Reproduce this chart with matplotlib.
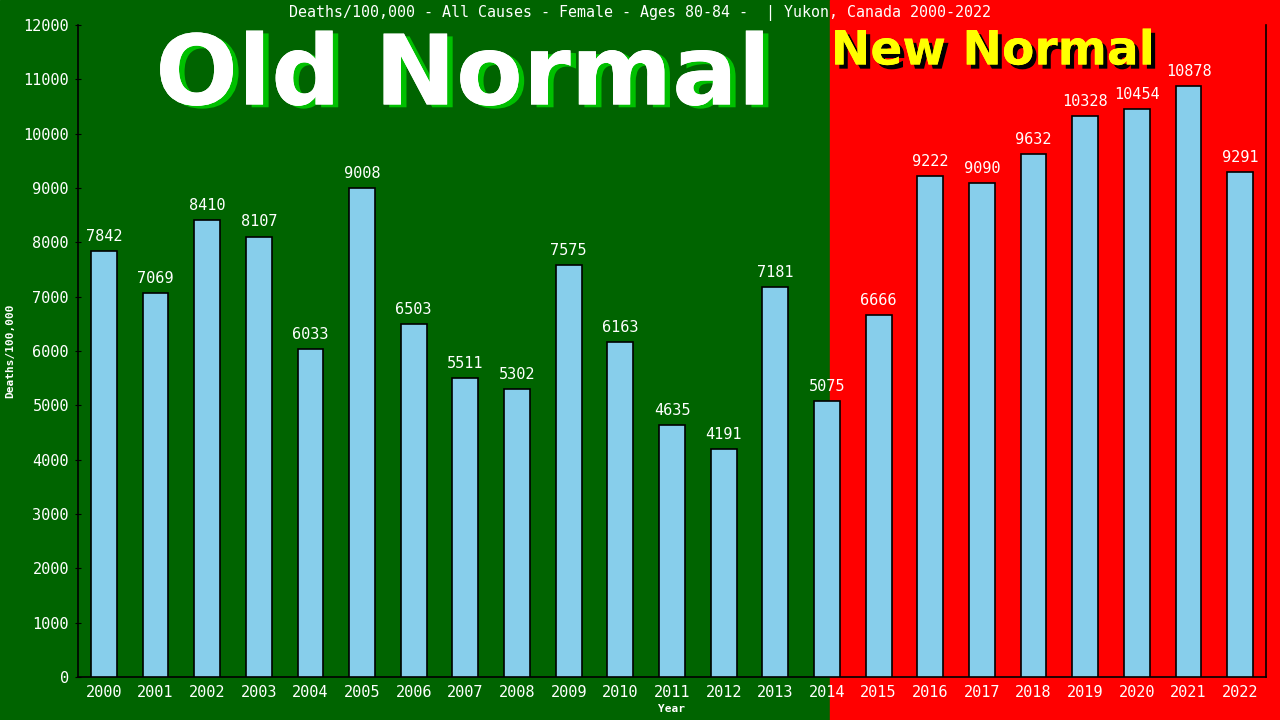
import numpy as np
import matplotlib.pyplot as plt
from matplotlib.patches import Rectangle
import matplotlib.patheffects as pe

years = [str(y) for y in range(2000, 2023)]
deaths = [7842, 7069, 8410, 8107, 6033, 9008, 6503, 5511, 5302, 7575,
          6163, 4635, 4191, 7181, 5075, 6666, 9222, 9090, 9632, 10328,
          10454, 10878, 9291]

title = "Deaths/100,000 - All Causes - Female - Ages 80-84 -  | Yukon, Canada 2000-2022"

fig = plt.figure(figsize=(12.8, 7.2), dpi=100)

# background halves: green = old normal, red = new normal
split = 830 / 1280
fig.patches.append(Rectangle((0, 0), split, 1, transform=fig.transFigure,
                             color='#006400', zorder=-10))
fig.patches.append(Rectangle((split, 0), 1 - split, 1, transform=fig.transFigure,
                             color='#ff0000', zorder=-10))

ax = fig.add_axes([78 / 1280, 43 / 720, 1188 / 1280, 652 / 720])
ax.patch.set_alpha(0)

x = np.arange(len(years))
ax.bar(x, deaths, width=0.5, color='#87ceeb', edgecolor='black', linewidth=1.2, zorder=3)
for xi, v in zip(x, deaths):
    ax.text(xi, v + 130, str(v), ha='center', va='bottom', color='white',
            fontsize=11, family='DejaVu Sans Mono', zorder=4)

ax.set_xlim(-0.5, len(years) - 0.5)
ax.set_ylim(0, 12000)
ax.set_yticks(range(0, 12001, 1000))
ax.set_xticks(x)
ax.set_xticklabels(years)
for lab in ax.get_xticklabels() + ax.get_yticklabels():
    lab.set_color('white')
    lab.set_family('DejaVu Sans Mono')
    lab.set_fontsize(11)
ax.tick_params(axis='x', length=0, pad=6)
ax.tick_params(axis='y', length=5, direction='inout', color='black', pad=4)
ax.spines['top'].set_visible(False)
for s in ['left', 'bottom', 'right']:
    ax.spines[s].set_color('black')
    ax.spines[s].set_linewidth(1.2)

ax.set_ylabel('Deaths/100,000', color='white', fontsize=8, fontweight='bold',
              family='DejaVu Sans Mono', labelpad=6)
ax.set_xlabel('Year', color='white', fontsize=8, fontweight='bold',
              family='DejaVu Sans Mono', labelpad=3)

fig.text(0.5, 1 - 13 / 720, title, ha='center', va='center', color='white',
         fontsize=10.8, family='DejaVu Sans Mono')

fig.text(463 / 1280, 1 - 78 / 720, 'Old Normal', ha='center', va='center',
         color='white', fontsize=70, fontweight='bold', family='DejaVu Sans',
         path_effects=[pe.withSimplePatchShadow(offset=(4, -2), shadow_rgbFace='#00c000', alpha=1),
                       pe.Normal()])
fig.text(993 / 1280, 1 - 52 / 720, 'New Normal', ha='center', va='center',
         color='yellow', fontsize=34, fontweight='bold', family='DejaVu Sans',
         path_effects=[pe.withSimplePatchShadow(offset=(3, -3), shadow_rgbFace='black', alpha=1),
                       pe.Normal()])

fig.savefig('out.png', dpi=100)
